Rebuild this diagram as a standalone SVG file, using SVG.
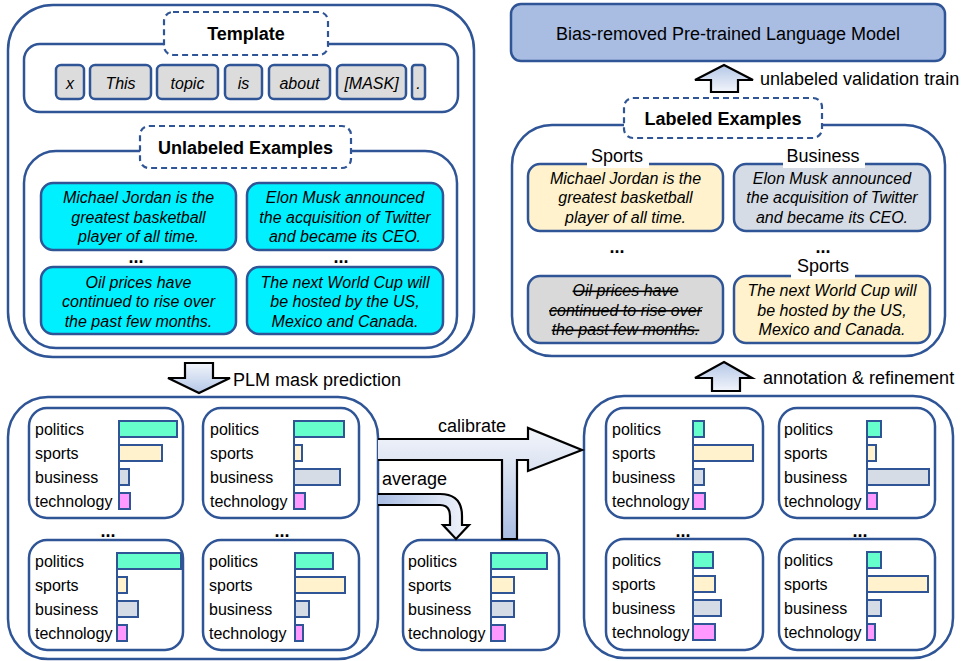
<svg xmlns="http://www.w3.org/2000/svg" width="966" height="661" viewBox="0 0 966 661">
<style>
text{font-family:"Liberation Sans",Arial,sans-serif;fill:#000}
.box{fill:#fff;stroke:#2f5597;stroke-width:2.5}
.dash{fill:#fff;stroke:#2f5597;stroke-width:2.2;stroke-dasharray:6,4}
.tok{fill:#dcdcdc;stroke:#2f5597;stroke-width:2.5}
.cy{fill:#00f0ff;stroke:#2f5597;stroke-width:2.5}
.yl{fill:#fff2cc;stroke:#2f5597;stroke-width:2.5}
.bl{fill:#d6dce5;stroke:#2f5597;stroke-width:2.5}
.gr{fill:#d9d9d9;stroke:#2f5597;stroke-width:2.5}
.hd{font-size:18px;font-weight:bold;text-anchor:middle}
.it{font-size:16px;font-style:italic;text-anchor:middle}
.lb{font-size:18px}
.cl{font-size:16px}
.dots{font-size:18px;font-weight:bold;text-anchor:middle}
.ax{stroke:#2f5597;stroke-width:2}
.p{fill:#66ffcc;stroke:#2f5597;stroke-width:2}
.s{fill:#fff2cc;stroke:#2f5597;stroke-width:2}
.b{fill:#d6dce5;stroke:#2f5597;stroke-width:2}
.t{fill:#ff99ff;stroke:#2f5597;stroke-width:2}
.arr{stroke:#000;stroke-width:2.2;stroke-linejoin:miter}
</style>
<defs>
<linearGradient id="gup" x1="0" y1="0" x2="0" y2="1"><stop offset="0" stop-color="#b4c7e7"/><stop offset="1" stop-color="#f2f5fb"/></linearGradient>
<linearGradient id="gdn" x1="0" y1="0" x2="0" y2="1"><stop offset="0" stop-color="#f2f5fb"/><stop offset="1" stop-color="#b4c7e7"/></linearGradient>
<linearGradient id="gcal" x1="0" y1="0" x2="0" y2="1"><stop offset="0" stop-color="#f2f5fb"/><stop offset="0.3" stop-color="#dfe6f3"/><stop offset="1" stop-color="#a9bde3"/></linearGradient>
<linearGradient id="gavg" x1="0" y1="0" x2="1" y2="0"><stop offset="0" stop-color="#a9bde3"/><stop offset="1" stop-color="#f2f5fb"/></linearGradient>
</defs>

<!-- Top-left: template + unlabeled examples -->
<g id="input-panel">
<rect class="box" x="8" y="5" width="466" height="352" rx="45"/>
</g>
<g id="template">
<rect class="box" x="24" y="44" width="434" height="68" rx="16"/>
<rect class="dash" x="164" y="12" width="164" height="43" rx="9"/>
<text class="hd" x="246" y="40">Template</text>
<rect class="tok" x="56" y="65" width="28" height="34" rx="5"/><text class="it" x="70" y="89">x</text>
<rect class="tok" x="90" y="65" width="61" height="34" rx="5"/><text class="it" x="120.5" y="89">This</text>
<rect class="tok" x="157" y="65" width="61" height="34" rx="5"/><text class="it" x="187.5" y="89">topic</text>
<rect class="tok" x="225" y="65" width="37" height="34" rx="5"/><text class="it" x="243.5" y="89">is</text>
<rect class="tok" x="269" y="65" width="61" height="34" rx="5"/><text class="it" x="299.5" y="89">about</text>
<rect class="tok" x="337" y="65" width="69" height="34" rx="5"/><text class="it" x="371.5" y="89">[MASK]</text>
<rect class="tok" x="412" y="65" width="13" height="34" rx="3"/><text class="it" x="418.5" y="89">.</text>
</g>
<g id="unlabeled-examples">
<rect class="box" x="24" y="151" width="433" height="197" rx="32"/>
<rect class="dash" x="140" y="126" width="211" height="42" rx="9"/>
<text class="hd" x="245.5" y="154">Unlabeled Examples</text>
<rect class="cy" x="41" y="183" width="195" height="67" rx="12"/>
<text class="it" x="138.5" y="203">Michael Jordan is the</text>
<text class="it" x="138.5" y="222.5">greatest basketball</text>
<text class="it" x="138.5" y="242">player of all time.</text>
<rect class="cy" x="247" y="183" width="196" height="67" rx="12"/>
<text class="it" x="345" y="203">Elon Musk announced</text>
<text class="it" x="345" y="222.5">the acquisition of Twitter</text>
<text class="it" x="345" y="242">and became its CEO.</text>
<text class="dots" x="136" y="263">...</text>
<text class="dots" x="341" y="263">...</text>
<rect class="cy" x="41" y="267" width="195" height="67" rx="12"/>
<text class="it" x="138.5" y="288">Oil prices have</text>
<text class="it" x="138.5" y="307">continued to rise over</text>
<text class="it" x="138.5" y="326.5">the past few months.</text>
<rect class="cy" x="247" y="267" width="196" height="67" rx="12"/>
<text class="it" x="345" y="288">The next World Cup will</text>
<text class="it" x="345" y="307">be hosted by the US,</text>
<text class="it" x="345" y="326.5">Mexico and Canada.</text>
</g>

<!-- Top-right -->
<g id="plm">
<rect x="511" y="4" width="434" height="57" rx="10" fill="#a9bde3" stroke="#2f5597" stroke-width="2.5"/>
<text x="728" y="40" font-size="18" text-anchor="middle">Bias-removed Pre-trained Language Model</text>
</g>
<g id="labeled-examples">
<rect class="box" x="512" y="125" width="433" height="231" rx="40"/>
<rect class="dash" x="624" y="98" width="198" height="40" rx="9"/>
<text class="hd" x="723" y="124.5">Labeled Examples</text>
<rect class="yl" x="528" y="164" width="195" height="67" rx="12"/>
<rect x="587" y="150" width="62" height="18" fill="#fff"/>
<text class="lb" x="617" y="162" text-anchor="middle">Sports</text>
<text class="it" x="625.5" y="183.5">Michael Jordan is the</text>
<text class="it" x="625.5" y="203">greatest basketball</text>
<text class="it" x="625.5" y="222.5">player of all time.</text>
<rect class="bl" x="734" y="164" width="196" height="67" rx="12"/>
<rect x="783" y="150" width="82" height="18" fill="#fff"/>
<text class="lb" x="823" y="162" text-anchor="middle">Business</text>
<text class="it" x="832" y="183.5">Elon Musk announced</text>
<text class="it" x="832" y="203">the acquisition of Twitter</text>
<text class="it" x="832" y="222.5">and became its CEO.</text>
<text class="dots" x="617" y="253">...</text>
<text class="dots" x="823" y="253">...</text>
<rect class="gr" x="528" y="276" width="195" height="67" rx="12"/>
<text class="it" x="625.5" y="296" text-decoration="line-through">Oil prices have</text>
<text class="it" x="625.5" y="315.5" text-decoration="line-through">continued to rise over</text>
<text class="it" x="625.5" y="335" text-decoration="line-through">the past few months.</text>
<rect class="yl" x="734" y="276" width="196" height="67" rx="12"/>
<rect x="791" y="259" width="64" height="20" fill="#fff"/>
<text class="lb" x="823" y="272" text-anchor="middle">Sports</text>
<text class="it" x="832" y="296">The next World Cup will</text>
<text class="it" x="832" y="315.5">be hosted by the US,</text>
<text class="it" x="832" y="335">Mexico and Canada.</text>
</g>

<!-- Bottom-left: predictions -->
<g id="predictions">
<rect class="box" x="8" y="397" width="370" height="262" rx="40"/>
<text class="dots" x="108" y="537">...</text>
<text class="dots" x="282" y="537">...</text>
</g>
<g id="chart-a">
<rect class="box" x="29" y="408" width="154" height="110" rx="18"/>
<text class="cl" x="35" y="435">politics</text><text class="cl" x="35" y="459">sports</text><text class="cl" x="35" y="483">business</text><text class="cl" x="35" y="507">technology</text>
<line class="ax" x1="119" y1="421" x2="119" y2="509"/>
<rect class="p" x="119" y="421" width="58" height="16"/><rect class="s" x="119" y="445" width="43" height="16"/><rect class="b" x="119" y="469" width="10" height="16"/><rect class="t" x="119" y="493" width="11" height="16"/>
</g>
<g id="chart-b">
<rect class="box" x="203" y="408" width="156" height="110" rx="18"/>
<text class="cl" x="210" y="435">politics</text><text class="cl" x="210" y="459">sports</text><text class="cl" x="210" y="483">business</text><text class="cl" x="210" y="507">technology</text>
<line class="ax" x1="294" y1="421" x2="294" y2="509"/>
<rect class="p" x="294" y="421" width="50" height="16"/><rect class="s" x="294" y="445" width="8" height="16"/><rect class="b" x="294" y="469" width="46" height="16"/><rect class="t" x="294" y="493" width="11" height="16"/>
</g>
<g id="chart-c">
<rect class="box" x="29" y="540" width="154" height="110" rx="18"/>
<text class="cl" x="35" y="567">politics</text><text class="cl" x="35" y="591">sports</text><text class="cl" x="35" y="615">business</text><text class="cl" x="35" y="639">technology</text>
<line class="ax" x1="117" y1="553" x2="117" y2="641"/>
<rect class="p" x="117" y="553" width="64" height="16"/><rect class="s" x="117" y="577" width="10" height="16"/><rect class="b" x="117" y="601" width="21" height="16"/><rect class="t" x="117" y="625" width="10" height="16"/>
</g>
<g id="chart-d">
<rect class="box" x="203" y="540" width="156" height="110" rx="18"/>
<text class="cl" x="209" y="567">politics</text><text class="cl" x="209" y="591">sports</text><text class="cl" x="209" y="615">business</text><text class="cl" x="209" y="639">technology</text>
<line class="ax" x1="295" y1="553" x2="295" y2="641"/>
<rect class="p" x="295" y="553" width="38" height="16"/><rect class="s" x="295" y="577" width="50" height="16"/><rect class="b" x="295" y="601" width="14" height="16"/><rect class="t" x="295" y="625" width="8" height="16"/>
</g>
<g id="chart-avg">
<rect class="box" x="403" y="540" width="156" height="110" rx="18"/>
<text class="cl" x="408" y="567">politics</text><text class="cl" x="408" y="591">sports</text><text class="cl" x="408" y="615">business</text><text class="cl" x="408" y="639">technology</text>
<line class="ax" x1="491" y1="553" x2="491" y2="641"/>
<rect class="p" x="491" y="553" width="56" height="16"/><rect class="s" x="491" y="577" width="23" height="16"/><rect class="b" x="491" y="601" width="23" height="16"/><rect class="t" x="491" y="625" width="14" height="16"/>
</g>

<!-- Bottom-right: calibrated -->
<g id="calibrated">
<rect class="box" x="584" y="396" width="369" height="262" rx="40"/>
<text class="dots" x="683" y="537">...</text>
<text class="dots" x="860" y="537">...</text>
</g>
<g id="chart-e">
<rect class="box" x="606" y="408" width="157" height="110" rx="18"/>
<text class="cl" x="612" y="435">politics</text><text class="cl" x="612" y="459">sports</text><text class="cl" x="612" y="483">business</text><text class="cl" x="612" y="507">technology</text>
<line class="ax" x1="693" y1="421" x2="693" y2="509"/>
<rect class="p" x="693" y="421" width="11" height="16"/><rect class="s" x="693" y="445" width="60" height="16"/><rect class="b" x="693" y="469" width="11" height="16"/><rect class="t" x="693" y="493" width="12" height="16"/>
</g>
<g id="chart-f">
<rect class="box" x="779" y="408" width="156" height="110" rx="18"/>
<text class="cl" x="784" y="435">politics</text><text class="cl" x="784" y="459">sports</text><text class="cl" x="784" y="483">business</text><text class="cl" x="784" y="507">technology</text>
<line class="ax" x1="867" y1="421" x2="867" y2="509"/>
<rect class="p" x="867" y="421" width="14" height="16"/><rect class="s" x="867" y="445" width="9" height="16"/><rect class="b" x="867" y="469" width="62" height="16"/><rect class="t" x="867" y="493" width="10" height="16"/>
</g>
<g id="chart-g">
<rect class="box" x="606" y="539" width="157" height="111" rx="18"/>
<text class="cl" x="612" y="566">politics</text><text class="cl" x="612" y="590">sports</text><text class="cl" x="612" y="614">business</text><text class="cl" x="612" y="638">technology</text>
<line class="ax" x1="693" y1="552" x2="693" y2="640"/>
<rect class="p" x="693" y="552" width="20" height="16"/><rect class="s" x="693" y="576" width="22" height="16"/><rect class="b" x="693" y="600" width="28" height="16"/><rect class="t" x="693" y="624" width="22" height="16"/>
</g>
<g id="chart-h">
<rect class="box" x="779" y="539" width="156" height="111" rx="18"/>
<text class="cl" x="784" y="566">politics</text><text class="cl" x="784" y="590">sports</text><text class="cl" x="784" y="614">business</text><text class="cl" x="784" y="638">technology</text>
<line class="ax" x1="867" y1="552" x2="867" y2="640"/>
<rect class="p" x="867" y="552" width="14" height="16"/><rect class="s" x="867" y="576" width="61" height="16"/><rect class="b" x="867" y="600" width="14" height="16"/><rect class="t" x="867" y="624" width="8" height="16"/>
</g>

<!-- Connectors -->
<g id="connectors">
<path class="arr" fill="url(#gdn)" d="M185,363 L213,363 L213,378 L230,378 L199,393 L168,378 L185,378 Z"/>
<text class="lb" x="233" y="386">PLM mask prediction</text>
<path class="arr" fill="url(#gup)" d="M724,362 L752,378 L740,378 L740,391 L712,391 L712,378 L695,378 Z"/>
<text class="lb" x="763" y="384">annotation &amp; refinement</text>
<path class="arr" fill="url(#gup)" d="M724,65 L753,80 L738,80 L738,92 L711,92 L711,80 L695,80 Z"/>
<text class="lb" x="760" y="85">unlabeled validation train</text>
<path class="arr" fill="url(#gcal)" d="M378,439 L528,439 L528,428 L582,450 L528,471 L528,460 L517,460 L517,539 L502,539 L502,460 L378,460"/>
<text class="lb" x="472" y="432" text-anchor="middle">calibrate</text>
<path class="arr" fill="url(#gavg)" d="M378,494 L440,494 Q462,494 462,516 L462,525 L469,525 L456,539 L443,525 L450,525 L450,516 Q450,505 440,505 L378,505"/>
<text class="lb" x="382" y="485">average</text>
</g>
</svg>
